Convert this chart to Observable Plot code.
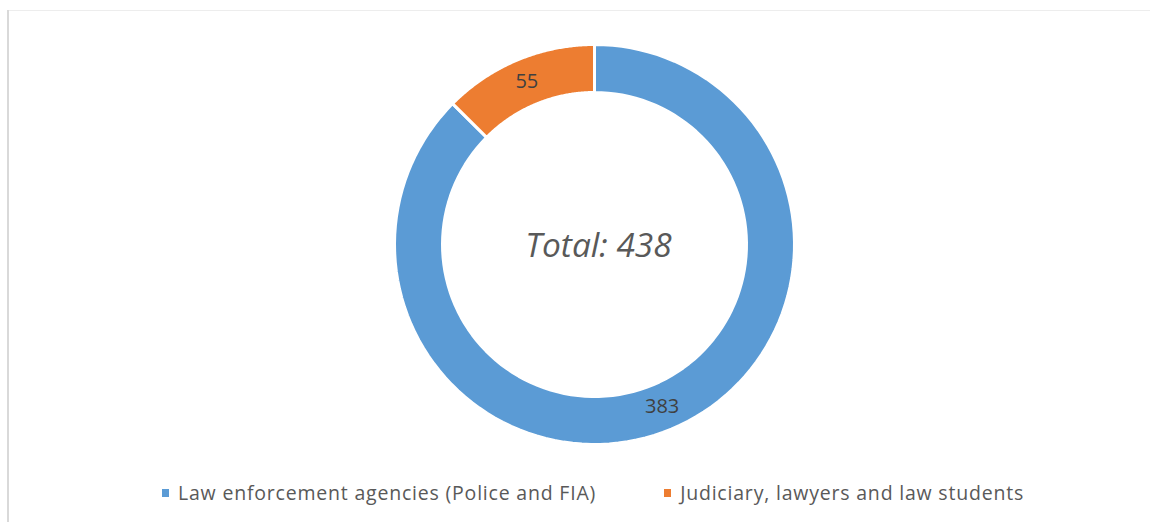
<!DOCTYPE html>
<html>
<head>
<meta charset="utf-8">
<script src="https://cdn.jsdelivr.net/npm/d3@7"></script>
<script src="https://cdn.jsdelivr.net/npm/@observablehq/plot@0.6"></script>
<style>
  html, body { margin: 0; padding: 0; background: #fff; }
  #wrap { position: relative; width: 1150px; height: 522px; overflow: hidden; }
  #frameL { position: absolute; left: 7px; top: 10px; width: 2px; height: 512px; background: #d9d9d9; }
  #frameT { position: absolute; left: 9px; top: 10px; right: 0; height: 1px; background: #ededed; }
  #chart { position: absolute; left: 0; top: 0; }
  #legend { position: absolute; left: 162px; top: 479px; display: flex; gap: 68px; align-items: center;
            font-family: "Open Sans", sans-serif; font-size: 19.5px; letter-spacing: 0.8px; color: #595959; white-space: nowrap; }
  .item { display: flex; align-items: center; }
  .sw { width: 7px; height: 8px; margin-right: 9px; }
</style>
</head>
<body>
<div id="wrap">
  <div id="frameL"></div>
  <div id="frameT"></div>
  <div id="chart"></div>
  <div id="legend"></div>
</div>
<script>
const categories = ["Law enforcement agencies (Police and FIA)", "Judiciary, lawyers and law students"];
const values = [383, 55];
const colors = ["#5B9BD5", "#ED7D31"];
const totalLabel = "Total: " + d3.sum(values);

const W = 1150, H = 470, cx = 594, cy = 244, Rpx = 200;
const outer = 1, inner = 0.76, mid = (outer + inner) / 2;

const pie = d3.pie().sort(null).startAngle(0).endAngle(2 * Math.PI);
const arcs = pie(values).map((a, i) => ({...a, key: categories[i], color: colors[i]}));

function slicePoints(a) {
  const n = 120, pts = [];
  for (let k = 0; k <= n; k++) {
    const t = a.startAngle + (a.endAngle - a.startAngle) * k / n;
    pts.push({x: outer * Math.sin(t), y: outer * Math.cos(t)});
  }
  for (let k = n; k >= 0; k--) {
    const t = a.startAngle + (a.endAngle - a.startAngle) * k / n;
    pts.push({x: inner * Math.sin(t), y: inner * Math.cos(t)});
  }
  return pts;
}

const labels = arcs.map(a => {
  const m = (a.startAngle + a.endAngle) / 2;
  return {x: mid * Math.sin(m), y: mid * Math.cos(m), text: String(a.value)};
});

const plot = Plot.plot({
  width: W, height: H,
  margin: 0,
  x: {domain: [-cx / Rpx, (W - cx) / Rpx], range: [0, W], axis: null},
  y: {domain: [-(H - cy) / Rpx, cy / Rpx], range: [H, 0], axis: null},
  style: {background: "transparent", overflow: "visible"},
  marks: [
    ...arcs.map(a => Plot.line(slicePoints(a), {x: "x", y: "y", fill: a.color, stroke: "white", strokeWidth: 3, curve: "linear-closed"})),
    Plot.text(labels, {x: "x", y: "y", text: "text", fill: "#404040", fontSize: 20, fontFamily: "Open Sans, sans-serif"}),
    Plot.text([totalLabel], {x: () => 0, y: () => 0, text: d => d, dx: 4, dy: 2, fill: "#595959", fontSize: 33.5, fontStyle: "italic", fontFamily: "Open Sans, sans-serif"})
  ]
});
document.getElementById("chart").appendChild(plot);

const legend = document.getElementById("legend");
categories.forEach((c, i) => {
  const it = document.createElement("div"); it.className = "item";
  const sw = document.createElement("span"); sw.className = "sw"; sw.style.background = colors[i];
  const tx = document.createElement("span"); tx.textContent = c;
  it.appendChild(sw); it.appendChild(tx); legend.appendChild(it);
});
</script>
</body>
</html>
